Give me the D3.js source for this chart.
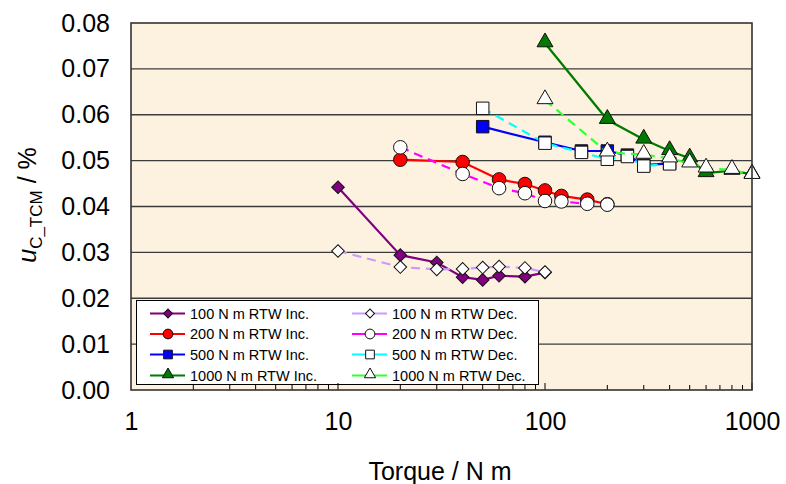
<!DOCTYPE html>
<html lang="en">
  <head>
    <meta charset="utf-8" />
    <title>Uncertainty vs torque</title>
    <script src="https://d3js.org/d3.v7.min.js"></script>
    <style>
      body {
        margin: 0;
        background: #fff;
        font-family: "Liberation Sans", Arial, sans-serif;
      }
      text {
        fill: #000;
      }
    </style>
  </head>
  <body>
    <svg id="chart" width="786" height="484"></svg>

    <script>
      // ----- data -----
      const t100 = [10, 20, 30, 40, 50, 60, 80, 100];
      const inc100 = [0.0442, 0.0294, 0.0278, 0.0246, 0.0240, 0.0249, 0.0247, 0.0256];
      const dec100 = [0.0303, 0.0268, 0.0263, 0.0264, 0.0267, 0.0269, 0.0266, 0.0257];

      const t200 = [20, 40, 60, 80, 100, 120, 160, 200];
      const inc200 = [0.0502, 0.0497, 0.0459, 0.0449, 0.0435, 0.0423, 0.0415, 0.0405];
      const dec200 = [0.0529, 0.0471, 0.0440, 0.0429, 0.0412, 0.0411, 0.0406, 0.0404];

      const t500 = [50, 100, 150, 200, 250, 300, 400];
      const inc500 = [0.0574, 0.0540, 0.0521, 0.0521, 0.0512, 0.0490, 0.0494];
      const dec500 = [0.0614, 0.0538, 0.0518, 0.0503, 0.0509, 0.0488, 0.0493];

      const t1000 = [100, 200, 300, 400, 500, 600, 800, 1000];
      const inc1000 = [0.0756, 0.0589, 0.0546, 0.0521, 0.0505, 0.0473, 0.0478, 0.0470];
      const dec1000 = [0.0632, 0.0518, 0.0513, 0.0505, 0.0494, 0.0483, 0.0480, 0.0469];

      const yTicks = [0, 0.01, 0.02, 0.03, 0.04, 0.05, 0.06, 0.07, 0.08];
      const xTicks = [1, 10, 100, 1000];

      // series in legend order (row by row)
      const series = [
        { name: "100 N m RTW Inc.", x: t100, y: inc100, color: "#800080", fill: "#800080", shape: "diamond", dash: null },
        { name: "100 N m RTW Dec.", x: t100, y: dec100, color: "#cc99ff", fill: "#fff", shape: "diamond", dash: "9,6" },
        { name: "200 N m RTW Inc.", x: t200, y: inc200, color: "#ff0000", fill: "#ff0000", shape: "circle", dash: null },
        { name: "200 N m RTW Dec.", x: t200, y: dec200, color: "#ff00ff", fill: "#fff", shape: "circle", dash: "9,6" },
        { name: "500 N m RTW Inc.", x: t500, y: inc500, color: "#0000ff", fill: "#0000ff", shape: "square", dash: null },
        { name: "500 N m RTW Dec.", x: t500, y: dec500, color: "#00ffff", fill: "#fff", shape: "square", dash: "9,6" },
        { name: "1000 N m RTW Inc.", x: t1000, y: inc1000, color: "#007a00", fill: "#007a00", shape: "triangle", dash: null },
        { name: "1000 N m RTW Dec.", x: t1000, y: dec1000, color: "#33ff33", fill: "#fff", shape: "triangle", dash: "9,6" }
      ];

      // ----- layout -----
      const svg = d3.select("#chart");
      const plotLeft = 131, plotRight = 752, plotTop = 23, plotBottom = 390;

      const x = d3.scaleLog().domain([1, 1000]).range([plotLeft, plotRight]);
      const y = d3.scaleLinear().domain([0, 0.08]).range([plotBottom, plotTop]);

      // plot background
      svg.append("rect")
        .attr("x", plotLeft).attr("y", plotTop)
        .attr("width", plotRight - plotLeft).attr("height", plotBottom - plotTop)
        .attr("fill", "#fdf1df");

      // horizontal gridlines
      svg.append("g")
        .selectAll("line")
        .data(yTicks.slice(1, -1))
        .join("line")
        .attr("x1", plotLeft).attr("x2", plotRight)
        .attr("y1", d => y(d)).attr("y2", d => y(d))
        .attr("stroke", "#3c3c3c")
        .attr("stroke-width", 1.3);

      // y axis labels
      const yAxis = d3.axisLeft(y).tickValues(yTicks).tickFormat(d3.format(".2f")).tickSize(0).tickPadding(21);
      svg.append("g")
        .attr("transform", `translate(${plotLeft},0)`)
        .call(yAxis)
        .call(g => g.select(".domain").remove())
        .selectAll("text")
        .attr("font-size", 25)
        .attr("font-family", "Liberation Sans, Arial, sans-serif");

      // x axis labels
      const xAxis = d3.axisBottom(x).tickValues(xTicks).tickFormat(d3.format("d")).tickSize(0).tickPadding(22);
      svg.append("g")
        .attr("transform", `translate(0,${plotBottom})`)
        .call(xAxis)
        .call(g => g.select(".domain").remove())
        .selectAll("text")
        .attr("font-size", 25)
        .attr("font-family", "Liberation Sans, Arial, sans-serif");

      // symbols
      function symbolPath(shape) {
        if (shape === "circle") return d3.symbol(d3.symbolCircle, 145)();
        if (shape === "square") return d3.symbol(d3.symbolSquare, 155)();
        if (shape === "triangle") return d3.symbol(d3.symbolTriangle, 110)();
        return d3.symbol(d3.symbolSquare, 80)(); // rotated into a diamond
      }
      function symbolTransform(shape, px, py) {
        const rot = shape === "diamond" ? " rotate(45)" : "";
        const dy = shape === "triangle" ? -1 : 0;
        return `translate(${px},${py + dy})${rot}`;
      }

      const line = d3.line().x(d => x(d[0])).y(d => y(d[1]));

      series.forEach(s => {
        const pts = s.x.map((v, i) => [v, s.y[i]]);
        const g = svg.append("g");
        g.append("path")
          .datum(pts)
          .attr("d", line)
          .attr("fill", "none")
          .attr("stroke", s.color)
          .attr("stroke-width", 2.2)
          .attr("stroke-dasharray", s.dash);
        g.selectAll("path.mark")
          .data(pts)
          .join("path")
          .attr("class", "mark")
          .attr("d", symbolPath(s.shape))
          .attr("transform", d => symbolTransform(s.shape, x(d[0]), y(d[1])))
          .attr("fill", s.fill)
          .attr("stroke", "#111")
          .attr("stroke-width", 1);
      });

      // legend
      const legend = svg.append("g");
      legend.append("rect")
        .attr("x", 136.5).attr("y", 300.5)
        .attr("width", 402).attr("height", 84)
        .attr("fill", "#fff")
        .attr("stroke", "#000")
        .attr("stroke-width", 1);

      const rowY = [313.5, 334, 354.5, 375.5];
      const colX = [150, 352];
      series.forEach((s, i) => {
        const cx = colX[i % 2], cy = rowY[Math.floor(i / 2)];
        legend.append("line")
          .attr("x1", cx).attr("x2", cx + 35)
          .attr("y1", cy).attr("y2", cy)
          .attr("stroke", s.color)
          .attr("stroke-width", 2.2);
        legend.append("path")
          .attr("d", s.shape === "diamond" ? d3.symbol(d3.symbolSquare, 40)() :
                     s.shape === "circle" ? d3.symbol(d3.symbolCircle, 75)() :
                     s.shape === "square" ? d3.symbol(d3.symbolSquare, 75)() :
                     d3.symbol(d3.symbolTriangle, 55)())
          .attr("transform", symbolTransform(s.shape, cx + 18, cy))
          .attr("fill", s.fill)
          .attr("stroke", "#111")
          .attr("stroke-width", 1);
        legend.append("text")
          .attr("x", cx + 40)
          .attr("y", cy + 5)
          .attr("font-size", 14.5)
          .text(s.name);
      });

      // minor ticks on the bottom axis
      const minor = [];
      [1, 10, 100].forEach(dec => {
        for (let k = 2; k <= 10; k++) minor.push(dec * k);
      });
      svg.append("g")
        .selectAll("line")
        .data(minor)
        .join("line")
        .attr("x1", d => x(d)).attr("x2", d => x(d))
        .attr("y1", plotBottom).attr("y2", d => [10, 100, 1000].includes(d) ? plotBottom - 7 : plotBottom - 5)
        .attr("stroke", "#000")
        .attr("stroke-width", 1);

      // plot frame
      svg.append("rect")
        .attr("x", plotLeft).attr("y", plotTop)
        .attr("width", plotRight - plotLeft).attr("height", plotBottom - plotTop)
        .attr("fill", "none")
        .attr("stroke", "#333")
        .attr("stroke-width", 1.6);

      // axis titles
      svg.append("text")
        .attr("x", 440).attr("y", 480)
        .attr("text-anchor", "middle")
        .attr("font-size", 25)
        .text("Torque / N m");

      const yTitle = svg.append("text")
        .attr("transform", "translate(36,205) rotate(-90)")
        .attr("text-anchor", "middle")
        .attr("font-size", 25);
      yTitle.append("tspan").attr("font-style", "italic").text("u");
      yTitle.append("tspan").attr("font-size", 17).attr("dy", 6).text("C_TCM");
      yTitle.append("tspan").attr("dy", -6).text(" / %");
    </script>
  </body>
</html>
